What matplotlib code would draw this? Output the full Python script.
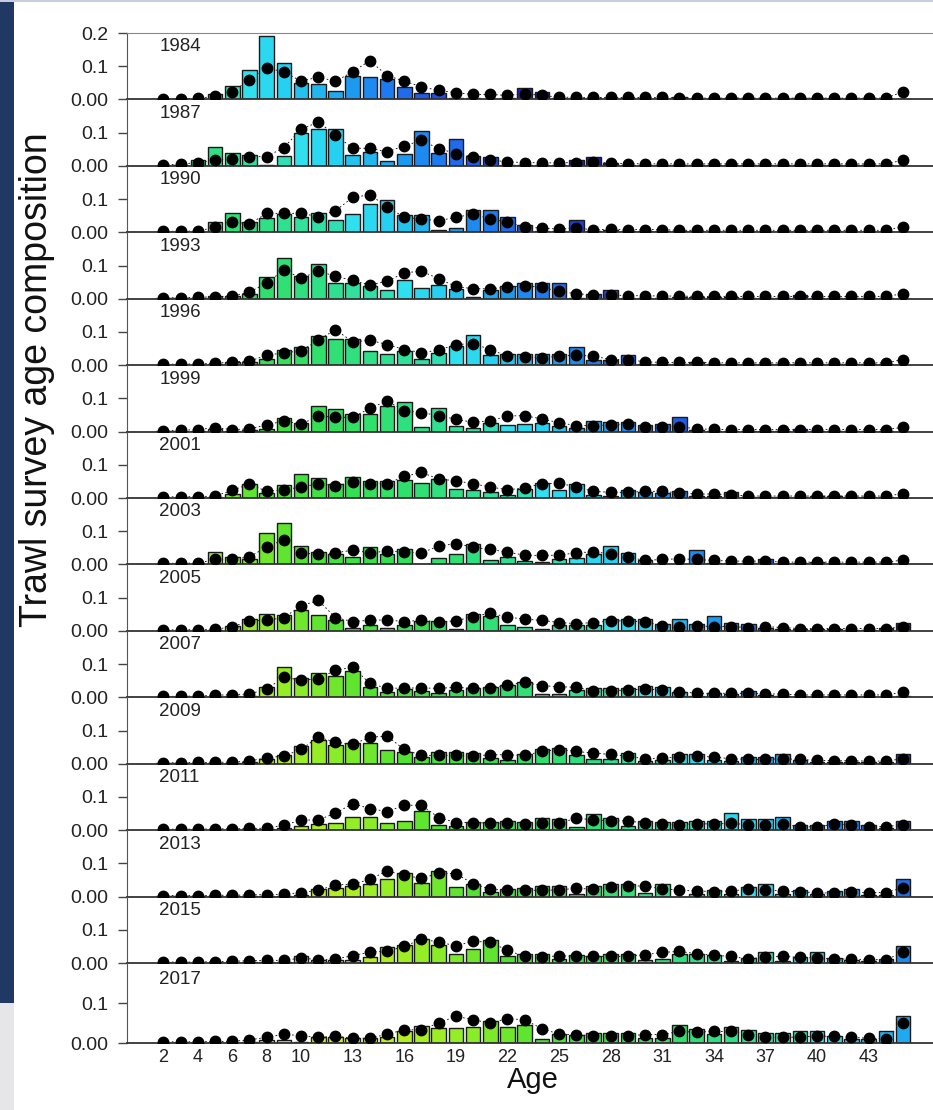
import matplotlib
matplotlib.use("Agg")
import matplotlib.pyplot as plt
from matplotlib.colors import LinearSegmentedColormap
from matplotlib.patches import Rectangle

plt.rcParams['font.family'] = ['Liberation Sans', 'DejaVu Sans']

ages = list(range(2, 46))
years = [1984, 1987, 1990, 1993, 1996, 1999, 2001, 2003, 2005, 2007, 2009, 2011, 2013, 2015, 2017]
tick_ages = [2, 4, 6, 8, 10, 13, 16, 19, 22, 25, 28, 31, 34, 37, 40, 43]

# observed proportions (bars), ages 2..45+
obs_1984 = [0.002, 0.002, 0.002, 0.015, 0.04, 0.09, 0.19, 0.11, 0.05, 0.045, 0.026, 0.07, 0.067, 0.062, 0.038,
            0.02, 0.018, 0.005, 0.003, 0.002, 0.005, 0.033, 0.022, 0.003, 0.003, 0.004, 0.002, 0.004, 0.002, 0.002,
            0.008, 0.002, 0.002, 0.003, 0.002, 0.002, 0.002, 0.003, 0.003, 0.002, 0.002, 0.002, 0.002, 0.0]
obs_1987 = [0.001, 0.002, 0.017, 0.057, 0.04, 0.032, 0.003, 0.03, 0.10, 0.112, 0.112, 0.034, 0.043, 0.014, 0.037,
            0.104, 0.04, 0.08, 0.03, 0.027, 0.003, 0.002, 0.002, 0.002, 0.017, 0.027, 0.01, 0.002, 0.002, 0.004,
            0.002, 0.002, 0.002, 0.002, 0.002, 0.002, 0.002, 0.002, 0.002, 0.002, 0.002, 0.002, 0.002, 0.0]
obs_1990 = [0.001, 0.001, 0.001, 0.032, 0.057, 0.03, 0.042, 0.055, 0.045, 0.057, 0.037, 0.055, 0.085, 0.098, 0.053,
            0.053, 0.008, 0.012, 0.067, 0.067, 0.047, 0.023, 0.005, 0.003, 0.037, 0.003, 0.006, 0.004, 0.005, 0.005,
            0.003, 0.003, 0.002, 0.002, 0.002, 0.002, 0.002, 0.002, 0.002, 0.002, 0.002, 0.002, 0.002, 0.0]
obs_1993 = [0.001, 0.001, 0.002, 0.007, 0.008, 0.013, 0.065, 0.122, 0.068, 0.104, 0.047, 0.047, 0.037, 0.027, 0.055,
            0.033, 0.042, 0.03, 0.005, 0.025, 0.037, 0.047, 0.047, 0.047, 0.003, 0.015, 0.025, 0.003, 0.003, 0.003,
            0.006, 0.004, 0.004, 0.004, 0.003, 0.003, 0.003, 0.01, 0.002, 0.002, 0.002, 0.002, 0.002, 0.0]
obs_1996 = [0.001, 0.001, 0.001, 0.002, 0.01, 0.01, 0.02, 0.045, 0.055, 0.088, 0.08, 0.08, 0.043, 0.035, 0.043,
            0.02, 0.037, 0.057, 0.092, 0.032, 0.035, 0.035, 0.035, 0.035, 0.055, 0.015, 0.015, 0.032, 0.003, 0.003,
            0.003, 0.008, 0.002, 0.002, 0.002, 0.002, 0.002, 0.002, 0.002, 0.002, 0.002, 0.002, 0.002, 0.0]
obs_1999 = [0.001, 0.001, 0.002, 0.008, 0.003, 0.005, 0.007, 0.042, 0.027, 0.077, 0.068, 0.052, 0.052, 0.077, 0.09,
            0.015, 0.07, 0.018, 0.01, 0.027, 0.02, 0.022, 0.027, 0.018, 0.01, 0.032, 0.028, 0.028, 0.02, 0.023,
            0.045, 0.004, 0.003, 0.002, 0.002, 0.002, 0.002, 0.008, 0.002, 0.002, 0.002, 0.002, 0.002, 0.0]
obs_2001 = [0.001, 0.001, 0.001, 0.002, 0.012, 0.042, 0.014, 0.038, 0.073, 0.06, 0.042, 0.062, 0.05, 0.05, 0.055,
            0.045, 0.057, 0.028, 0.023, 0.017, 0.01, 0.027, 0.045, 0.025, 0.042, 0.01, 0.007, 0.023, 0.017, 0.015,
            0.02, 0.005, 0.005, 0.017, 0.002, 0.002, 0.002, 0.002, 0.006, 0.006, 0.002, 0.002, 0.002, 0.0]
obs_2003 = [0.001, 0.001, 0.001, 0.037, 0.023, 0.015, 0.095, 0.125, 0.057, 0.037, 0.03, 0.022, 0.052, 0.032, 0.045,
            0.002, 0.018, 0.03, 0.062, 0.012, 0.022, 0.01, 0.006, 0.015, 0.018, 0.032, 0.055, 0.035, 0.012, 0.0,
            0.0, 0.042, 0.005, 0.005, 0.005, 0.015, 0.002, 0.005, 0.006, 0.002, 0.002, 0.002, 0.002, 0.0]
obs_2005 = [0.001, 0.001, 0.001, 0.002, 0.015, 0.037, 0.052, 0.048, 0.062, 0.047, 0.032, 0.01, 0.018, 0.01, 0.017,
            0.03, 0.03, 0.007, 0.052, 0.045, 0.017, 0.012, 0.007, 0.017, 0.018, 0.018, 0.035, 0.035, 0.035, 0.022,
            0.037, 0.02, 0.045, 0.025, 0.022, 0.01, 0.005, 0.005, 0.005, 0.005, 0.002, 0.003, 0.01, 0.025]
obs_2007 = [0.001, 0.001, 0.001, 0.002, 0.004, 0.005, 0.03, 0.09, 0.057, 0.072, 0.063, 0.08, 0.03, 0.015, 0.025,
            0.02, 0.012, 0.022, 0.027, 0.03, 0.037, 0.047, 0.01, 0.01, 0.022, 0.027, 0.027, 0.027, 0.033, 0.03,
            0.015, 0.005, 0.012, 0.01, 0.018, 0.006, 0.003, 0.002, 0.002, 0.002, 0.002, 0.002, 0.002, 0.005]
obs_2009 = [0.001, 0.001, 0.001, 0.001, 0.002, 0.004, 0.015, 0.025, 0.052, 0.07, 0.055, 0.062, 0.063, 0.04, 0.035,
            0.02, 0.035, 0.035, 0.033, 0.018, 0.01, 0.03, 0.043, 0.048, 0.027, 0.015, 0.013, 0.033, 0.007, 0.01,
            0.03, 0.03, 0.012, 0.008, 0.02, 0.02, 0.03, 0.012, 0.004, 0.004, 0.004, 0.004, 0.004, 0.03]
obs_2011 = [0.001, 0.001, 0.001, 0.001, 0.001, 0.002, 0.003, 0.005, 0.013, 0.018, 0.021, 0.041, 0.041, 0.021, 0.028,
            0.058, 0.016, 0.013, 0.025, 0.025, 0.028, 0.025, 0.038, 0.035, 0.01, 0.048, 0.038, 0.013, 0.028, 0.025,
            0.025, 0.028, 0.028, 0.051, 0.035, 0.035, 0.04, 0.015, 0.015, 0.028, 0.028, 0.016, 0.008, 0.028]
obs_2013 = [0.001, 0.001, 0.001, 0.001, 0.001, 0.002, 0.002, 0.002, 0.005, 0.024, 0.027, 0.032, 0.037, 0.052, 0.07,
            0.042, 0.077, 0.03, 0.039, 0.014, 0.024, 0.027, 0.032, 0.032, 0.007, 0.032, 0.037, 0.039, 0.012, 0.039,
            0.0, 0.007, 0.02, 0.009, 0.03, 0.037, 0.009, 0.019, 0.007, 0.017, 0.022, 0.005, 0.004, 0.052]
obs_2015 = [0.001, 0.001, 0.001, 0.001, 0.001, 0.002, 0.003, 0.003, 0.022, 0.01, 0.008, 0.01, 0.018, 0.048, 0.055,
            0.072, 0.055, 0.027, 0.043, 0.068, 0.02, 0.027, 0.027, 0.012, 0.025, 0.022, 0.028, 0.028, 0.01, 0.012,
            0.028, 0.028, 0.025, 0.007, 0.015, 0.033, 0.007, 0.018, 0.033, 0.015, 0.01, 0.005, 0.012, 0.05]
obs_2017 = [0.001, 0.001, 0.001, 0.001, 0.001, 0.003, 0.008, 0.007, 0.002, 0.014, 0.015, 0.012, 0.012, 0.014, 0.03,
            0.042, 0.037, 0.037, 0.039, 0.056, 0.04, 0.044, 0.01, 0.022, 0.021, 0.025, 0.025, 0.025, 0.012, 0.012,
            0.044, 0.036, 0.022, 0.039, 0.033, 0.025, 0.025, 0.031, 0.031, 0.017, 0.011, 0.01, 0.029, 0.068]

# model-predicted proportions (dots)
fit_1984 = [0.002, 0.002, 0.003, 0.01, 0.022, 0.06, 0.095, 0.083, 0.055, 0.067, 0.055, 0.083, 0.117, 0.072, 0.055,
            0.038, 0.027, 0.02, 0.015, 0.015, 0.012, 0.017, 0.012, 0.007, 0.006, 0.006, 0.006, 0.006, 0.006, 0.006,
            0.004, 0.004, 0.004, 0.004, 0.004, 0.004, 0.004, 0.004, 0.004, 0.004, 0.004, 0.004, 0.004, 0.023]
fit_1987 = [0.003, 0.005, 0.01, 0.017, 0.02, 0.027, 0.028, 0.055, 0.11, 0.132, 0.093, 0.053, 0.053, 0.042, 0.06,
            0.077, 0.052, 0.037, 0.027, 0.018, 0.012, 0.01, 0.009, 0.009, 0.01, 0.012, 0.008, 0.007, 0.006, 0.006,
            0.006, 0.006, 0.006, 0.006, 0.006, 0.006, 0.006, 0.006, 0.006, 0.006, 0.006, 0.006, 0.006, 0.017]
fit_1990 = [0.003, 0.003, 0.004, 0.015, 0.032, 0.025, 0.057, 0.057, 0.057, 0.047, 0.065, 0.105, 0.113, 0.077, 0.045,
            0.04, 0.035, 0.045, 0.055, 0.04, 0.03, 0.017, 0.012, 0.01, 0.012, 0.008, 0.009, 0.008, 0.008, 0.008,
            0.006, 0.006, 0.006, 0.006, 0.006, 0.006, 0.006, 0.006, 0.006, 0.006, 0.006, 0.006, 0.006, 0.017]
fit_1993 = [0.003, 0.003, 0.004, 0.006, 0.008, 0.02, 0.047, 0.087, 0.062, 0.083, 0.068, 0.055, 0.042, 0.052, 0.078,
            0.083, 0.06, 0.037, 0.03, 0.03, 0.035, 0.038, 0.035, 0.022, 0.015, 0.012, 0.012, 0.009, 0.009, 0.008,
            0.008, 0.007, 0.007, 0.007, 0.007, 0.007, 0.007, 0.007, 0.007, 0.007, 0.007, 0.007, 0.007, 0.015]
fit_1996 = [0.003, 0.003, 0.004, 0.005, 0.01, 0.012, 0.03, 0.037, 0.043, 0.075, 0.107, 0.07, 0.075, 0.062, 0.047,
            0.038, 0.045, 0.062, 0.065, 0.047, 0.027, 0.025, 0.022, 0.027, 0.03, 0.027, 0.017, 0.017, 0.01, 0.008,
            0.008, 0.008, 0.007, 0.007, 0.007, 0.007, 0.007, 0.007, 0.007, 0.007, 0.007, 0.007, 0.007, 0.017]
fit_1999 = [0.003, 0.004, 0.006, 0.012, 0.006, 0.008, 0.02, 0.032, 0.022, 0.047, 0.043, 0.043, 0.07, 0.092, 0.063,
            0.057, 0.048, 0.037, 0.028, 0.032, 0.047, 0.048, 0.038, 0.027, 0.018, 0.018, 0.02, 0.022, 0.015, 0.015,
            0.015, 0.008, 0.007, 0.006, 0.006, 0.006, 0.006, 0.006, 0.006, 0.006, 0.006, 0.006, 0.006, 0.013]
fit_2001 = [0.003, 0.004, 0.004, 0.006, 0.023, 0.042, 0.02, 0.025, 0.033, 0.043, 0.037, 0.047, 0.043, 0.043, 0.065,
            0.077, 0.057, 0.052, 0.043, 0.033, 0.025, 0.03, 0.043, 0.045, 0.033, 0.02, 0.017, 0.017, 0.02, 0.02,
            0.015, 0.012, 0.012, 0.01, 0.006, 0.006, 0.006, 0.006, 0.006, 0.006, 0.006, 0.006, 0.006, 0.013]
fit_2003 = [0.003, 0.004, 0.004, 0.015, 0.015, 0.023, 0.052, 0.075, 0.035, 0.03, 0.035, 0.043, 0.035, 0.04, 0.037,
            0.035, 0.055, 0.063, 0.052, 0.045, 0.037, 0.028, 0.027, 0.028, 0.035, 0.038, 0.032, 0.022, 0.012, 0.015,
            0.017, 0.015, 0.012, 0.01, 0.01, 0.01, 0.007, 0.007, 0.007, 0.007, 0.007, 0.007, 0.007, 0.013]
fit_2005 = [0.003, 0.003, 0.004, 0.005, 0.012, 0.03, 0.032, 0.04, 0.075, 0.092, 0.04, 0.028, 0.032, 0.033, 0.028,
            0.032, 0.027, 0.03, 0.043, 0.053, 0.042, 0.035, 0.032, 0.025, 0.022, 0.025, 0.03, 0.03, 0.027, 0.015,
            0.012, 0.015, 0.013, 0.013, 0.01, 0.013, 0.01, 0.007, 0.007, 0.007, 0.007, 0.007, 0.007, 0.012]
fit_2007 = [0.003, 0.003, 0.004, 0.006, 0.008, 0.01, 0.025, 0.06, 0.052, 0.055, 0.082, 0.09, 0.042, 0.027, 0.028,
            0.028, 0.027, 0.03, 0.027, 0.028, 0.037, 0.045, 0.035, 0.032, 0.03, 0.02, 0.02, 0.022, 0.025, 0.022,
            0.017, 0.012, 0.012, 0.012, 0.012, 0.01, 0.01, 0.007, 0.007, 0.007, 0.007, 0.007, 0.007, 0.015]
fit_2009 = [0.003, 0.003, 0.004, 0.004, 0.005, 0.008, 0.018, 0.023, 0.043, 0.08, 0.065, 0.058, 0.08, 0.083, 0.043,
            0.025, 0.025, 0.025, 0.023, 0.027, 0.027, 0.025, 0.037, 0.042, 0.037, 0.032, 0.028, 0.022, 0.015, 0.017,
            0.02, 0.023, 0.02, 0.015, 0.013, 0.013, 0.015, 0.013, 0.01, 0.009, 0.009, 0.008, 0.008, 0.015]
fit_2011 = [0.003, 0.003, 0.003, 0.004, 0.004, 0.005, 0.006, 0.015, 0.03, 0.031, 0.051, 0.08, 0.065, 0.056, 0.075,
            0.075, 0.038, 0.023, 0.023, 0.021, 0.021, 0.02, 0.021, 0.021, 0.036, 0.031, 0.028, 0.028, 0.021, 0.018,
            0.016, 0.02, 0.018, 0.021, 0.016, 0.015, 0.018, 0.01, 0.01, 0.018, 0.016, 0.01, 0.011, 0.016]
fit_2013 = [0.003, 0.003, 0.003, 0.004, 0.004, 0.005, 0.006, 0.007, 0.012, 0.019, 0.035, 0.037, 0.052, 0.077, 0.064,
            0.055, 0.07, 0.069, 0.039, 0.022, 0.019, 0.019, 0.019, 0.02, 0.025, 0.022, 0.029, 0.032, 0.032, 0.024,
            0.019, 0.017, 0.015, 0.017, 0.022, 0.02, 0.017, 0.014, 0.012, 0.01, 0.014, 0.012, 0.012, 0.027]
fit_2015 = [0.003, 0.003, 0.003, 0.004, 0.005, 0.007, 0.008, 0.008, 0.015, 0.01, 0.012, 0.022, 0.033, 0.035, 0.05,
            0.072, 0.063, 0.052, 0.065, 0.063, 0.038, 0.02, 0.018, 0.022, 0.02, 0.02, 0.02, 0.02, 0.025, 0.032,
            0.035, 0.028, 0.023, 0.02, 0.012, 0.018, 0.02, 0.017, 0.015, 0.012, 0.012, 0.01, 0.01, 0.032]
fit_2017 = [0.003, 0.003, 0.003, 0.004, 0.004, 0.008, 0.014, 0.022, 0.018, 0.014, 0.017, 0.012, 0.012, 0.022, 0.033,
            0.033, 0.05, 0.067, 0.058, 0.05, 0.061, 0.058, 0.036, 0.022, 0.021, 0.018, 0.018, 0.018, 0.021, 0.021,
            0.029, 0.027, 0.029, 0.029, 0.021, 0.015, 0.014, 0.015, 0.017, 0.017, 0.014, 0.012, 0.011, 0.05]

observed = [obs_1984, obs_1987, obs_1990, obs_1993, obs_1996, obs_1999, obs_2001, obs_2003,
            obs_2005, obs_2007, obs_2009, obs_2011, obs_2013, obs_2015, obs_2017]
predicted = [fit_1984, fit_1987, fit_1990, fit_1993, fit_1996, fit_1999, fit_2001, fit_2003,
             fit_2005, fit_2007, fit_2009, fit_2011, fit_2013, fit_2015, fit_2017]

# bar colour follows the year class (survey year - age)
cohort_stops = [1950, 1958, 1962, 1966, 1969, 1972, 1975, 1977, 1978, 1980, 1984, 1988, 1993, 1997, 2001, 2006, 2015]
cohort_cols = ['#202060', '#1c1c8c', '#2028c8', '#2050e6', '#1e7cf0', '#1eaaf0', '#26d0f0', '#30e0f0',
               '#30e0b4', '#30e09c', '#30e074', '#34e052', '#50e232', '#88ec28', '#b4f020', '#d8f020', '#e6f420']
c0, c1 = cohort_stops[0], cohort_stops[-1]
cohort_cmap = LinearSegmentedColormap.from_list(
    'cohort', [((c - c0) / (c1 - c0), col) for c, col in zip(cohort_stops, cohort_cols)])

W, H = 933, 1110
fig = plt.figure(figsize=(W / 100, H / 100), dpi=100)

# slide frame around the figure
fig.patches.append(Rectangle((0, 1 - 1003 / H), 14 / W, 1003 / H, transform=fig.transFigure,
                             facecolor='#203864', edgecolor='none', zorder=0))
fig.patches.append(Rectangle((0, 0), 14 / W, 1 - 1003 / H, transform=fig.transFigure,
                             facecolor='#e6e6e8', edgecolor='none', zorder=0))
fig.patches.append(Rectangle((0, 1 - 2 / H), 1, 2 / H, transform=fig.transFigure,
                             facecolor='#c9cde0', edgecolor='none', zorder=0))

left = 127 / W
for i, (yr, obs, fit) in enumerate(zip(years, observed, predicted)):
    if i < 14:
        top, h = 33 + i * 66.43, 66.43
    else:
        top, h = 963, 80
    ax = fig.add_axes([left, 1 - (top + h) / H, 1 - left, h / H])
    ax.patch.set_alpha(0)

    cols = [cohort_cmap(min(max((yr - a - c0) / (c1 - c0), 0), 1)) for a in ages]
    ax.plot(ages, fit, color='k', lw=0.6, ls=(0, (2, 3)), zorder=1)
    ax.bar(ages, obs, width=0.85, color=cols, edgecolor='#1a1a1a', linewidth=1.0, zorder=2)
    ax.plot(ages, fit, 'o', color='k', ms=7.5, zorder=3)

    ax.set_xlim(-0.12, 46.74)
    ax.set_ylim(0, 0.2)
    ax.text(1.75, 0.158, str(yr), fontsize=13.5, ha='left', va='center', color='#222222')

    for s in ['right', 'top']:
        ax.spines[s].set_visible(False)
    if i == 0:
        ax.spines['top'].set_visible(True)
        ax.spines['top'].set_color('#888888')
        ax.set_yticks([0, 0.1, 0.2])
        ax.set_yticklabels(['0.00', '0.1', '0.2'])
    else:
        ax.set_yticks([0, 0.1])
        ax.set_yticklabels(['0.00', '0.1'])
    ax.spines['left'].set_color('#555555')
    ax.spines['bottom'].set_color('#333333')
    ax.spines['bottom'].set_linewidth(1.3)
    ax.tick_params(axis='y', direction='out', length=6.5, width=1, color='#444444',
                   labelsize=14, pad=7, labelcolor='#222222')
    if i == len(years) - 1:
        ax.set_xticks(tick_ages)
        ax.tick_params(axis='x', length=0, pad=4, labelsize=13, labelcolor='#222222')
    else:
        ax.set_xticks([])

fig.text(533 / W, 1 - 1080 / H, 'Age', ha='center', va='center', fontsize=21, color='#111111')
fig.text(37 / W, 1 - 380 / H, 'Trawl survey age composition', rotation=90,
         ha='center', va='center', fontsize=27, color='#111111')

fig.savefig('out.png', dpi=100)
